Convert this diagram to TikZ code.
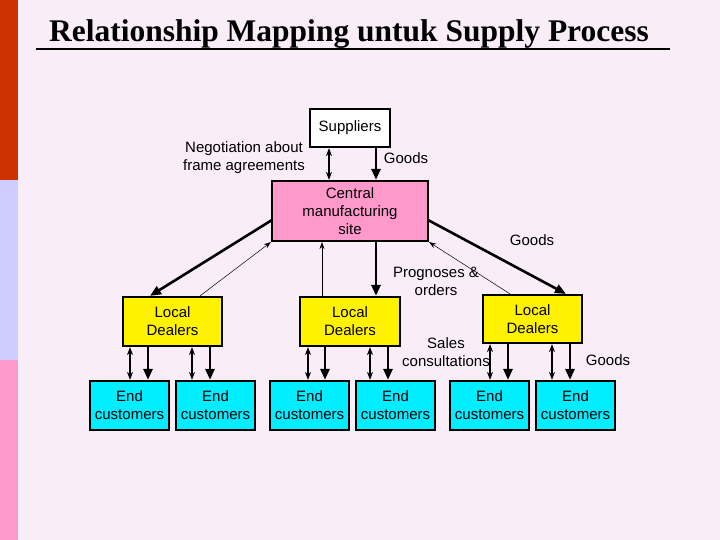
\documentclass[tikz,border=0pt]{standalone}
\usepackage{fontspec}
\setmainfont{Liberation Sans}
\newfontfamily\titlefont{Liberation Serif}
\usetikzlibrary{arrows.meta}
\definecolor{bgc}{RGB}{249,238,248}
\definecolor{stripeA}{RGB}{204,51,0}
\definecolor{stripeB}{RGB}{204,204,255}
\definecolor{stripeC}{RGB}{255,153,204}
\definecolor{pinkbox}{RGB}{255,153,204}
\definecolor{cyanbox}{RGB}{0,238,255}
\begin{document}
\begin{tikzpicture}[x=1pt,y=-1pt,
  box/.style={draw=black,line width=2.2pt,minimum width=#1,align=center,font=\fontsize{15}{18}\selectfont,inner sep=1pt},
  thick arr/.style={line width=2.6pt,-{Triangle[length=11pt,width=9pt]}},
  thin arr/.style={line width=0.5pt,-{Stealth[length=7pt,width=5pt]}},
  dbl arr/.style={line width=1.3pt,{Stealth[length=8pt,width=6pt]}-{Stealth[length=8pt,width=6pt]}},
  lbl/.style={align=center,font=\fontsize{15}{18}\selectfont}]
\fill[bgc] (0,0) rectangle (720,540);
\useasboundingbox (0,0) rectangle (720,540);
\fill[stripeA] (0,0) rectangle (18,180);
\fill[stripeB] (0,180) rectangle (18,360);
\fill[stripeC] (0,360) rectangle (18,540);
\node[font=\titlefont\bfseries\fontsize{31.5}{34}\selectfont] (title) at (349,34) {Relationship Mapping untuk Supply Process};
\draw[line width=1.3pt] (36,49) -- (670,49);
\node[box=80pt,fill=white,minimum height=38pt] (sup) at (350,128) {Suppliers};
\node[box=156pt,fill=pinkbox,minimum height=60pt] (cen) at (350,211) {Central\\manufacturing\\site};
\node[box=99pt,fill=yellow,minimum height=49pt] (d1) at (172.5,321.5) {Local\\Dealers};
\node[box=100pt,fill=yellow,minimum height=49pt] (d2) at (350,321.5) {Local\\Dealers};
\node[box=99pt,fill=yellow,minimum height=48pt] (d3) at (532.5,319) {Local\\Dealers};
\foreach \n/\x in {e1/129.5,e2/215.5,e3/309.5,e4/395.5,e5/489.5,e6/575.5}
  \node[box=79pt,fill=cyanbox,minimum height=49pt] (\n) at (\x,405.5) {End\\customers};
\draw[dbl arr] (sup.south -| 329,0) -- (cen.north -| 329,0);
\draw[thick arr] (sup.south -| 376,0) -- (cen.north -| 376,0);
\draw[thick arr] (272,220) -- (d1.north -| 150,0);
\draw[thin arr] (d1.north -| 200,0) -- (cen.south west);
\draw[thin arr] (d2.north -| 322,0) -- (cen.south -| 322,0);
\draw[thick arr] (cen.south -| 376,0) -- (d2.north -| 376,0);
\draw[thin arr] (d3.north -| 510,0) -- (cen.south east);
\draw[thick arr] (428,220) -- (d3.north -| 566,0);
\foreach \d/\e/\a/\b in {d1/e1/130/148, d1/e2/192/210, d2/e3/308/325, d2/e4/370/388, d3/e5/490/508, d3/e6/552/570}{
  \draw[dbl arr] (\d.south -| \a,0) -- (\e.north -| \a,0);
  \draw[thick arr] (\d.south -| \b,0) -- (\e.north -| \b,0);
}
\node[lbl] (l1) at (244,158) {Negotiation about\\frame agreements};
\node[lbl] (l2) at (406,158) {Goods};
\node[lbl] (l3) at (532,240) {Goods};
\node[lbl] (l4) at (436,281) {Prognoses \&\\orders};
\node[lbl] (l5) at (446,352) {Sales\\consultations};
\node[lbl] (l6) at (608,360) {Goods};
\end{tikzpicture}
\end{document}
